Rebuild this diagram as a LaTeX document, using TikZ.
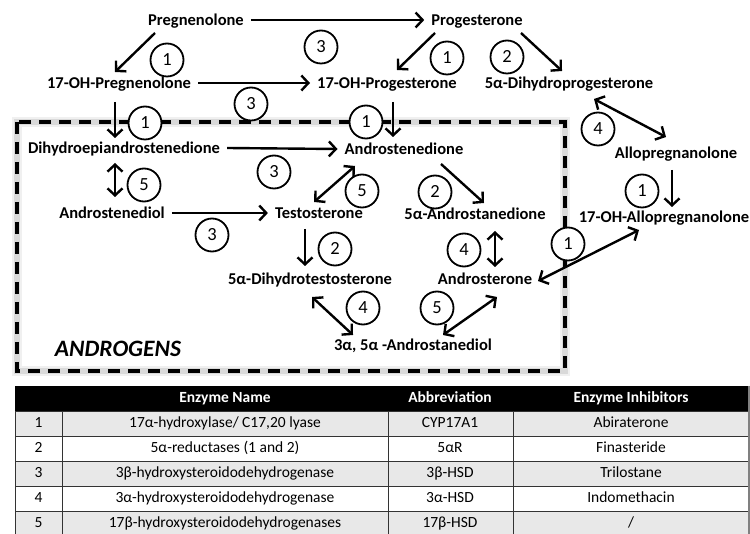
\documentclass[tikz,border=0pt]{standalone}
\usepackage{fontspec}
\setmainfont{Carlito}
\usetikzlibrary{arrows.meta,calc}

\definecolor{rowgray}{HTML}{E8E8E8}
\definecolor{rulegray}{HTML}{333333}

\begin{document}
\begin{tikzpicture}[x=1pt,y=-1pt,>={Straight Barb[length=7pt,width=15pt]},
    cmpd/.style={inner xsep=7pt,inner ysep=1pt,text height=11.5pt,text depth=0pt,
        font=\bfseries\fontsize{16.5}{18}\selectfont},
    enz/.style={circle,draw,fill=white,line width=1.8pt,minimum size=33pt,inner sep=0pt,
        font=\fontsize{18.5}{18}\selectfont},
    rxn/.style={->,line width=2.4pt},
    both/.style={<->,line width=2.4pt},
    cell/.style={inner sep=0pt,text height=10.5pt,text depth=3pt,
        font=\fontsize{15.5}{17}\selectfont}]

        \useasboundingbox (0,0) rectangle (750,534);

        % the androgen frame with its soft shadow
        \draw[line width=10pt,gray!12] (17,122) rectangle (565,371);
        \draw[line width=6pt,gray!30] (17,122) rectangle (565,371);
        \draw[line width=3.5pt,dash pattern=on 12pt off 8pt] (17,122) rectangle (565,371);

        % the compounds
        \node[cmpd] (preg)      at (196,20)  {Pregnenolone};
        \node[cmpd] (prog)      at (477,20)  {Progesterone};
        \node[cmpd] (ohpreg)    at (119,83)  {17-OH-Pregnenolone};
        \node[cmpd] (ohprog)    at (387,83)  {17-OH-Progesterone};
        \node[cmpd] (dhp)       at (569,83)  {5α-Dihydroprogesterone};
        \node[cmpd] (dhea)      at (124,148) {Dihydroepiandrostenedione};
        \node[cmpd] (adione)    at (404,149) {Androstenedione};
        \node[cmpd] (allo)      at (676,153) {Allopregnanolone};
        \node[cmpd] (adiol)     at (112,213) {Androstenediol};
        \node[cmpd] (testo)     at (319,213) {Testosterone};
        \node[cmpd] (adanedione) at (475,214) {5α-Androstanedione};
        \node[cmpd] (ohallo)    at (664,217) {17-OH-Allopregnanolone};
        \node[cmpd] (dht)       at (310,279) {5α-Dihydrotestosterone};
        \node[cmpd] (andro)     at (485,279) {Androsterone};
        \node[cmpd] (adiolaa)   at (413,345) {3α, 5α -Androstanediol};
        \node[font=\bfseries\itshape\fontsize{23.5}{26}\selectfont] (androgens) at (118,349) {ANDROGENS};

        % the conversions
        \draw[rxn] (preg.east) -- (prog.west);
        \draw[rxn] ($(preg)+(-41,13)$) -- ($(ohpreg)+(-4,-11)$);
        \draw[rxn] (ohpreg.east) -- (ohprog.west);
        \draw[rxn] ($(prog)+(-42,13)$) -- ($(ohprog)+(10,-13)$);
        \draw[rxn] ($(prog)+(44,13)$) -- ($(dhp)+(-7,-12)$);
        \draw[rxn] ($(ohpreg)+(-4,19)$) -- ($(dhea)+(-9,-10)$);
        \draw[rxn] ($(ohprog)+(6,19)$) -- ($(adione)+(-11,-12)$);
        \draw[both] ($(dhp)+(25,16)$) -- ($(allo)+(-10,-16)$);
        \draw[rxn] (dhea.east) -- (adione.west);
        \draw[both] ($(dhea)+(-9,15)$) -- ($(adiol)+(3,-16)$);
        \draw[rxn] (adiol.east) -- (testo.west);
        \draw[both] ($(adione)+(-49,17)$) -- ($(testo)+(-5,-11)$);
        \draw[rxn] ($(adione)+(37,15)$) -- ($(adanedione)+(9,-11)$);
        \draw[rxn] ($(allo)+(-4,17)$) -- ($(ohallo)+(8,-10)$);
        \draw[both] ($(ohallo)+(-25,13)$) -- ($(andro)+(53,2)$);
        \draw[rxn] ($(testo)+(-14,16)$) -- ($(dht)+(-5,-13)$);
        \draw[both] ($(adanedione)+(20,17)$) -- ($(andro)+(10,-12)$);
        \draw[both] ($(dht)+(2,18)$) -- ($(adiolaa)+(-60,-10)$);
        \draw[both] ($(andro)+(12,18)$) -- ($(adiolaa)+(30,-10)$);

        % the enzyme numbers
        \foreach \x/\y/\num [count=\i] in {
            167/60/1, 321/47/3, 447/58/1, 507/57/2, 251/104/3,
            145/123/1, 366/122/1, 598/129/4, 144/185/5, 274/172/3,
            362/191/5, 435/192/2, 642/191/1, 212/235/3, 335/249/2,
            464/250/4, 568/244/1, 363/308/4, 437/308/5}
                \node[enz] (enz\i) at (\x,\y) {\num};

        % the enzyme table
        \fill (15,386) rectangle (749,411);
        \foreach \x/\txt in {225/Enzyme Name, 450/Abbreviation, 631/Enzyme Inhibitors}
                \node[cell,text=white,font=\bfseries\fontsize{15.5}{17}\selectfont] (head\x) at (\x,398.5) {\txt};

        \foreach \r/\shade/\ename/\abbr/\inhib in {
            1/rowgray/{17α-hydroxylase/ C17,20 lyase}/CYP17A1/Abiraterone,
            2/white/{5α-reductases (1 and 2)}/5αR/Finasteride,
            3/rowgray/3β-hydroxysteroidodehydrogenase/3β-HSD/Trilostane,
            4/white/3α-hydroxysteroidodehydrogenase/3α-HSD/Indomethacin,
            5/rowgray/17β-hydroxysteroidodehydrogenases/17β-HSD/{/}} {
                \pgfmathsetmacro{\rowtop}{411+25*(\r-1)}
                \filldraw[fill=\shade,draw=rulegray,line width=0.9pt] (15,\rowtop) rectangle (749,{\rowtop+25});
                \foreach \xd in {62,388,513}
                        \draw[rulegray,line width=0.9pt] (\xd,\rowtop) -- (\xd,{\rowtop+25});
                \node[cell] (num\r)   at (38.5,{\rowtop+12.5}) {\r};
                \node[cell] (name\r)  at (225,{\rowtop+12.5})  {\ename};
                \node[cell] (abbr\r)  at (450,{\rowtop+12.5})  {\abbr};
                \node[cell] (inhib\r) at (631,{\rowtop+12.5})  {\inhib};
        }
        \draw[gray,line width=1.5pt] (749,386) -- (749,540);
\end{tikzpicture}
\end{document}
